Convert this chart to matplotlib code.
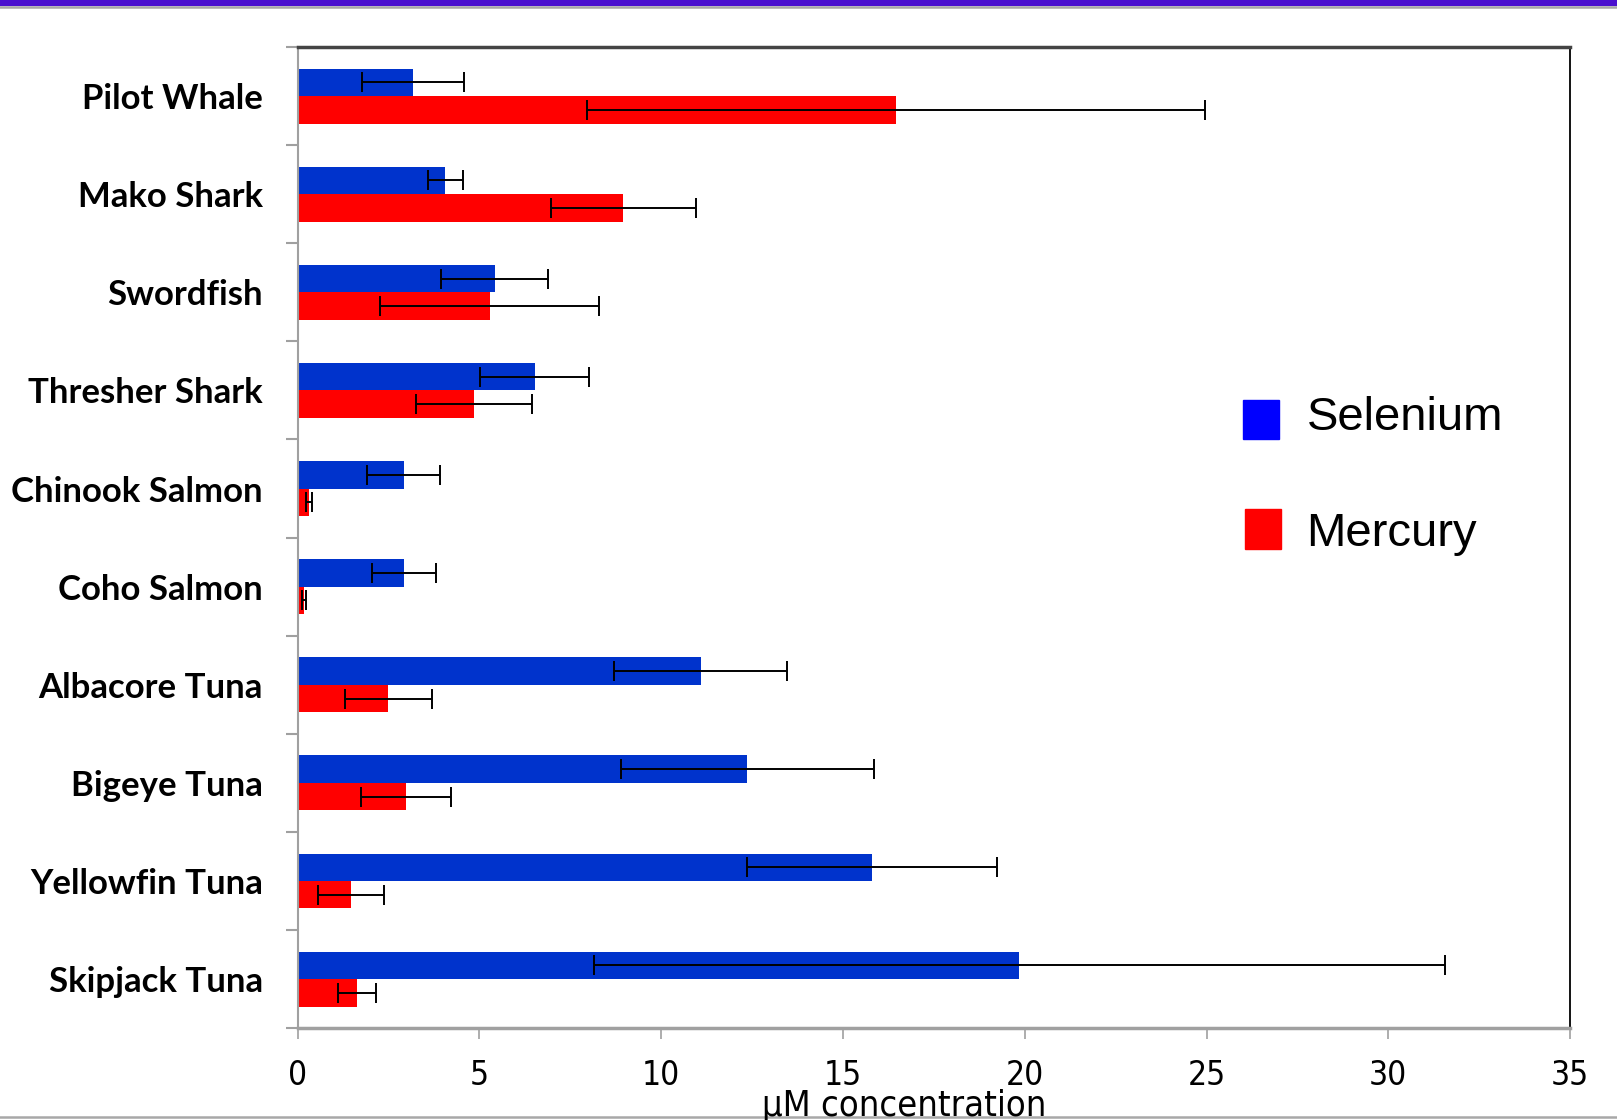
import numpy as np
import matplotlib
matplotlib.use("Agg")
import matplotlib.pyplot as plt
from matplotlib.patches import Rectangle
from matplotlib.lines import Line2D
from matplotlib import font_manager

# data, top to bottom as in the chart
species = ["Pilot Whale", "Mako Shark", "Swordfish", "Thresher Shark",
           "Chinook Salmon", "Coho Salmon", "Albacore Tuna", "Bigeye Tuna",
           "Yellowfin Tuna", "Skipjack Tuna"]
selenium = [3.18, 4.06, 5.42, 6.52, 2.92, 2.92, 11.09, 12.37, 15.80, 19.85]
selenium_err = [1.40, 0.48, 1.47, 1.50, 1.00, 0.88, 2.38, 3.48, 3.45, 11.70]
mercury = [16.45, 8.96, 5.28, 4.85, 0.31, 0.17, 2.50, 2.98, 1.47, 1.64]
mercury_err = [8.50, 2.00, 3.00, 1.60, 0.08, 0.05, 1.20, 1.23, 0.90, 0.52]
xticks = [0, 5, 10, 15, 20, 25, 30, 35]

names = sorted(set(f.name for f in font_manager.fontManager.ttflist))
print([n for n in names if "Narrow" in n or "Condensed" in n])
print([(f.name, f.stretch) for f in font_manager.fontManager.ttflist if "DejaVu Sans" in f.name])

narrow = font_manager.FontProperties(family="DejaVu Sans", stretch="condensed", size=24)
narrow_lab = font_manager.FontProperties(family="DejaVu Sans", stretch="condensed", size=26)

fig = plt.figure(figsize=(16.17, 11.2), dpi=100)
ax = fig.add_axes([0.184, 0.082, 0.787, 0.876])

y = np.arange(len(species))
h = 0.28
ax.barh(y - h/2, selenium, height=h, color="#0033cc", zorder=2)
ax.barh(y + h/2, mercury, height=h, color="#ff0000", zorder=2)
ax.errorbar(selenium, y - h/2, xerr=selenium_err, fmt="none", ecolor="black",
            elinewidth=1.4, capsize=7, capthick=1.4, zorder=3)
ax.errorbar(mercury, y + h/2, xerr=mercury_err, fmt="none", ecolor="black",
            elinewidth=1.4, capsize=7, capthick=1.4, zorder=3)

ax.set_xlim(0, 35)
ax.set_ylim(len(species) - 0.5, -0.5)
ax.set_xticks(xticks)
ax.set_xticklabels([str(t) for t in xticks], fontproperties=narrow)
ax.set_yticks(y)
ax.set_yticklabels(species, fontsize=25, fontweight="bold", family=["Lato", "DejaVu Sans"])
ax.set_yticks(np.arange(len(species) + 1) - 0.5, minor=True)
ax.tick_params(axis="y", which="major", length=0, pad=25)
ax.tick_params(axis="y", which="minor", length=9, width=1.5, color="#a0a0a0", direction="out")
ax.tick_params(axis="x", length=8, width=1.2, color="#a0a0a0", direction="out", pad=14)

ax.spines["left"].set_color("#a0a0a0")
ax.spines["left"].set_linewidth(1.5)
ax.spines["bottom"].set_color("#a0a0a0")
ax.spines["bottom"].set_linewidth(2.5)
ax.spines["top"].set_color("#444444")
ax.spines["top"].set_linewidth(2.5)
ax.spines["right"].set_color("black")
ax.spines["right"].set_linewidth(1.3)

# legend drawn as separate squares and text
fig.patches.append(Rectangle((0.7685, 0.6077), 0.0223, 0.035, transform=fig.transFigure,
                             color="#0000ff"))
fig.patches.append(Rectangle((0.7698, 0.5101), 0.0223, 0.035, transform=fig.transFigure,
                             color="#ff0000"))
fig.text(0.808, 0.627, "Selenium", fontsize=34, family=["Liberation Sans", "DejaVu Sans"],
         va="center")
fig.text(0.808, 0.523, "Mercury", fontsize=34, family=["Liberation Sans", "DejaVu Sans"],
         va="center")

fig.text(0.559, 0.004, "µM concentration", fontproperties=narrow_lab,
         ha="center", va="baseline")

# slide frame: purple band at top, gray rule at bottom
fig.add_artist(Line2D([0, 1], [0.9975, 0.9975], transform=fig.transFigure,
                      color="#4a10cf", linewidth=4.5))
fig.add_artist(Line2D([0, 1], [0.9935, 0.9935], transform=fig.transFigure,
                      color="#a8a8a8", linewidth=1.8))
fig.add_artist(Line2D([0, 1], [0.0025, 0.0025], transform=fig.transFigure,
                      color="#a8a8a8", linewidth=1.8))

fig.savefig("out.png", dpi=100)
